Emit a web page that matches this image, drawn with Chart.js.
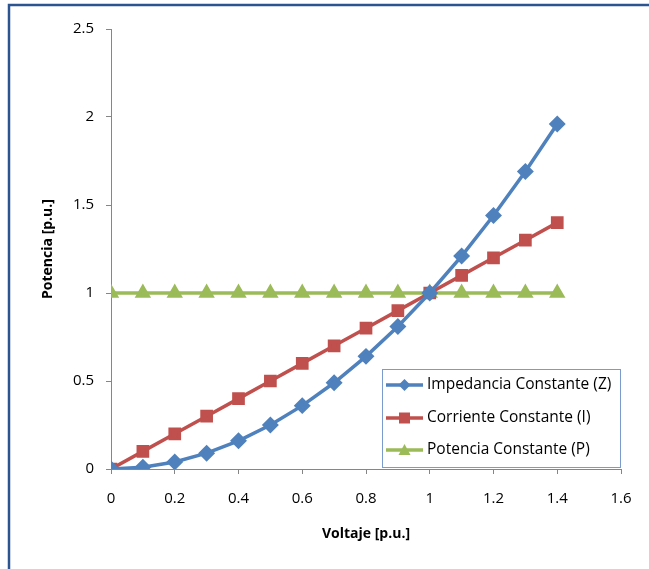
<!DOCTYPE html>
<html>
<head>
<meta charset="utf-8">
<script src="https://cdn.jsdelivr.net/npm/chart.js@4"></script>
<style>
  html, body { margin: 0; padding: 0; background: #fff; overflow: hidden; }
  #wrap { position: relative; width: 649px; height: 569px; }
</style>
</head>
<body>
<div id="wrap"><canvas id="grafico" width="649" height="569"></canvas></div>
<script>
(function () {
    // datos
    const voltaje = [0, 0.1, 0.2, 0.3, 0.4, 0.5, 0.6, 0.7, 0.8, 0.9, 1.0, 1.1, 1.2, 1.3, 1.4];
    const impedanciaZ = [0, 0.01, 0.04, 0.09, 0.16, 0.25, 0.36, 0.49, 0.64, 0.81, 1.0, 1.21, 1.44, 1.69, 1.96];
    const corrienteI = [0, 0.1, 0.2, 0.3, 0.4, 0.5, 0.6, 0.7, 0.8, 0.9, 1.0, 1.1, 1.2, 1.3, 1.4];
    const potenciaP = [1, 1, 1, 1, 1, 1, 1, 1, 1, 1, 1, 1, 1, 1, 1];
    const ticksX = [0, 0.2, 0.4, 0.6, 0.8, 1, 1.2, 1.4, 1.6];
    const ticksY = [0, 0.5, 1, 1.5, 2, 2.5];
    const nombres = ['Impedancia Constante (Z)', 'Corriente Constante (I)', 'Potencia Constante (P)'];

    const paleta = {
        azul: '#4F81BD',
        rojo: '#C0504D',
        verde: '#9BBB59',
        eje: '#868686',
        marco: '#2C5491',
        texto: '#000000'
    };

    const fuente = "'Open Sans', 'Liberation Sans', sans-serif";
    const pares = (ys) => voltaje.map((v, i) => ({ x: v, y: ys[i] }));

    // marco azul y leyenda con borde
    const extras = {
        id: 'extras',
        beforeDraw(chart) {
            const ctx = chart.ctx;
            ctx.save();
            ctx.strokeStyle = paleta.marco;
            ctx.lineWidth = 2.5;
            ctx.strokeRect(9, 5, 700, 700);
            ctx.restore();
        },
        afterDraw(chart) {
            const ctx = chart.ctx;
            const bx = 382.5, by = 369.5, bw = 238, bh = 98;
            ctx.save();
            ctx.fillStyle = '#fff';
            ctx.fillRect(bx, by, bw, bh);
            ctx.strokeStyle = '#7A9BCB';
            ctx.lineWidth = 1;
            ctx.strokeRect(bx, by, bw, bh);
            const filas = [385, 418, 450];
            chart.data.datasets.forEach((ds, i) => {
                const y = filas[i];
                ctx.strokeStyle = ds.borderColor;
                ctx.lineWidth = 3.5;
                ctx.beginPath();
                ctx.moveTo(386, y);
                ctx.lineTo(423, y);
                ctx.stroke();
                ctx.fillStyle = ds.backgroundColor;
                const cx = 404.5;
                ctx.beginPath();
                if (ds.pointStyle === 'rectRot') {
                    ctx.moveTo(cx, y - 6); ctx.lineTo(cx + 6, y); ctx.lineTo(cx, y + 6); ctx.lineTo(cx - 6, y);
                } else if (ds.pointStyle === 'rect') {
                    ctx.rect(cx - 5.5, y - 5.5, 11, 11);
                } else {
                    ctx.moveTo(cx, y - 6); ctx.lineTo(cx + 6, y + 5); ctx.lineTo(cx - 6, y + 5);
                }
                ctx.closePath();
                ctx.fill();
                ctx.fillStyle = paleta.texto;
                ctx.font = '15.5px ' + fuente;
                ctx.textBaseline = 'middle';
                ctx.fillText(ds.label, 427, y);
            });
            ctx.restore();
        }
    };

    const ejeComun = {
        type: 'linear',
        border: { display: true, color: paleta.eje, width: 1 },
        grid: { drawOnChartArea: false, drawTicks: true, tickLength: 5, color: paleta.eje },
        ticks: {
            color: paleta.texto,
            font: { family: fuente, size: 15 },
            callback: (v) => String(Math.round(v * 10) / 10)
        }
    };

    new Chart(document.getElementById('grafico'), {
        type: 'line',
        data: {
            datasets: [{
                label: nombres[0],
                data: pares(impedanciaZ),
                borderColor: paleta.azul,
                backgroundColor: paleta.azul,
                pointStyle: 'rectRot',
                pointRadius: 6,
                borderWidth: 3.5
            }, {
                label: nombres[1],
                data: pares(corrienteI),
                borderColor: paleta.rojo,
                backgroundColor: paleta.rojo,
                pointStyle: 'rect',
                pointRadius: 6.5,
                borderWidth: 3.5
            }, {
                label: nombres[2],
                data: pares(potenciaP),
                borderColor: paleta.verde,
                backgroundColor: paleta.verde,
                pointStyle: 'triangle',
                pointRadius: 6,
                borderWidth: 3.5
            }]
        },
        options: {
            responsive: false,
            animation: false,
            layout: { padding: { top: 29, right: 28, left: 0, bottom: 0 } },
            plugins: {
                legend: { display: false },
                tooltip: { enabled: false }
            },
            elements: { line: { tension: 0 }, point: { borderWidth: 0 } },
            scales: {
                x: {
                    ...ejeComun,
                    min: 0, max: 1.6,
                    afterBuildTicks: (s) => { s.ticks = ticksX.map(v => ({ value: v })); },
                    afterFit: (s) => { s.height = 100; },
                    ticks: { ...ejeComun.ticks, padding: 16, maxRotation: 0 },
                    title: {
                        display: true, text: 'Voltaje [p.u.]', color: paleta.texto,
                        font: { family: fuente, size: 14, weight: 'bold' },
                        padding: { top: 0, bottom: 27 }
                    }
                },
                y: {
                    ...ejeComun,
                    min: 0, max: 2.5,
                    afterBuildTicks: (s) => { s.ticks = ticksY.map(v => ({ value: v })); },
                    afterFit: (s) => { s.width = 111; },
                    ticks: { ...ejeComun.ticks, padding: 12 },
                    title: {
                        display: true, text: 'Potencia [p.u.]', color: paleta.texto,
                        font: { family: fuente, size: 14, weight: 'bold' },
                        padding: { top: 40, bottom: 0 }
                    }
                }
            }
        },
        plugins: [extras]
    });
})();
</script>
</body>
</html>
